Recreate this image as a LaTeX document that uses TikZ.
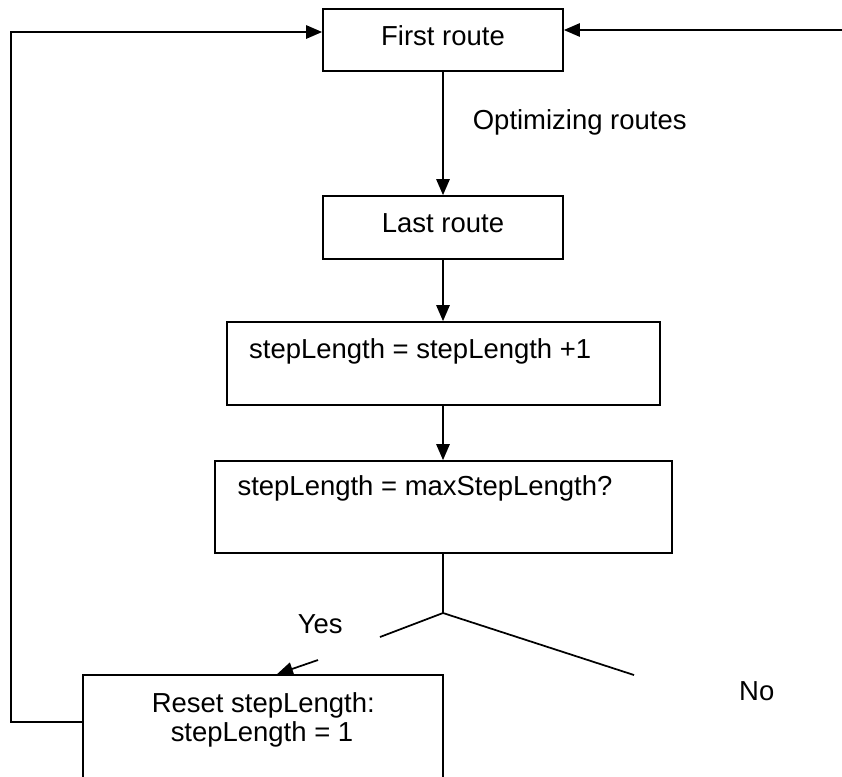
\documentclass[tikz,border=0pt]{standalone}
\usepackage{fontspec}
\setmainfont{Liberation Sans}
\usetikzlibrary{arrows.meta,fit}
\begin{document}
\begin{tikzpicture}[x=0.75pt,y=-0.75pt,
  line width=1.3pt,
  box/.style={draw, rectangle, inner sep=0pt, line width=1.3pt},
  lbl/.style={inner sep=0pt, font=\fontsize{20.6}{24}\selectfont},
  flow/.style={-{Triangle[length=12pt,width=10pt]}},
]
\clip (0,0) rectangle (842,776);

% boxes
\node[box, fit={(323,9) (563,71)}]    (first) {};
\node[box, fit={(323,196) (563,259)}] (last)  {};
\node[box, fit={(227,322) (660,405)}] (step)  {};
\node[box, fit={(215,461) (672,553)}] (cond)  {};
\node[box, fit={(83,675) (443,800)}]  (reset) {};

% texts
\node[lbl, anchor=base] (firstT) at (443,45.7) {First route};
\node[lbl, anchor=base] (lastT) at (443,232.7) {Last route};
\node[lbl, anchor=base west] (stepT) at (248.3,358.3) {stepLength = stepLength +1};
\node[lbl, anchor=base west] (condT) at (236.7,495) {stepLength = maxStepLength?};
\node[lbl, anchor=base] (resetT1) at (263.3,712.7) {Reset stepLength:};
\node[lbl, anchor=base] (resetT2) at (262,741.7) {stepLength = 1};
\node[lbl, anchor=base west] (optT) at (472,129) {Optimizing routes};
\node[lbl, anchor=base west] (yesT) at (297,633.3) {Yes};
\node[lbl, anchor=base west] (noT) at (738.3,700) {No};

% helper points
\coordinate (cornerBL) at (11,722);
\coordinate (cornerTL) at (11,32);
\coordinate (rightEnd) at (846,30);
\coordinate (J) at (443,613);
\coordinate (yesBreak) at (380,637);
\coordinate (yesResume) at (318,660);
\coordinate (yesTip) at (277,676);
\coordinate (noEnd) at (634,675);

% main flow
\draw[flow] (first.south) -- (first.south |- last.north);
\draw[flow] (last.south) -- (last.south |- step.north);
\draw[flow] (last.south |- step.south) -- (last.south |- cond.north);
\draw (last.south |- cond.south) -- (J);

% decision branches
\draw (J) -- (yesBreak);
\draw[flow] (yesResume) -- (yesTip |- reset.north);
\draw (J) -- (noEnd);

% loop back to the first route
\draw[flow] (reset.west |- cornerBL) -- (cornerBL) -- (cornerTL) -- (first.west |- cornerTL);
\draw[flow] (rightEnd) -- (first.east |- rightEnd);
\end{tikzpicture}
\end{document}
